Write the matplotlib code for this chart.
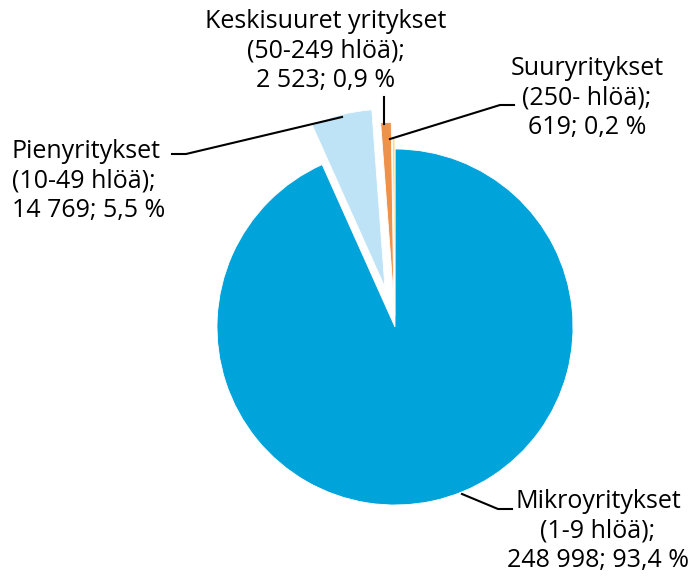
import matplotlib
matplotlib.use("Agg")
import matplotlib.pyplot as plt

labels = ["Mikroyritykset\n(1-9 hlöä);\n248 998; 93,4 %",
          "Pienyritykset\n(10-49 hlöä);\n14 769; 5,5 %",
          "Keskisuuret yritykset\n(50-249 hlöä);\n2 523; 0,9 %",
          "Suuryritykset\n(250- hlöä);\n619; 0,2 %"]
values = [248998, 14769, 2523, 619]
colors = ["#00A3DA", "#BEE3F6", "#F0914A", "#FFDD6E"]
explode_frac = [0, 0.23, 0.15, 0.06]

W, H = 694, 579
fig = plt.figure(figsize=(W / 100, H / 100), dpi=100)
ax = fig.add_axes([0, 0, 1, 1])

R = 178
cx, cy = 395, H - 327
ax.pie(values, colors=colors, explode=[e * R for e in explode_frac],
       startangle=90, counterclock=False,
       radius=R, center=(cx, cy),
       wedgeprops=dict(edgecolor="white", linewidth=0.6))
ax.set_aspect("equal")
ax.set_xlim(0, W)
ax.set_ylim(0, H)
ax.axis("off")

def y(p):
    return H - p

fs = 18
font = dict(fontsize=fs, family=["Open Sans", "DejaVu Sans"], color="black",
            linespacing=1.25)

# Text labels
ax.text(326, y(51), labels[2], ha="center", va="center", **font)
ax.text(587, y(98), labels[3], ha="center", va="center", **font)
ax.text(12, y(181), labels[1], ha="left", va="center", **font)
ax.text(598, y(531), labels[0], ha="center", va="center", **font)

# Leader lines
lk = dict(color="black", linewidth=1.5)
ax.plot([172, 186, 342], [y(154), y(154), y(117)], **lk)
ax.plot([384, 384], [y(97), y(124)], **lk)
ax.plot([390, 500, 514], [y(139), y(105), y(105)], **lk)
ax.plot([462, 498, 512], [y(494), y(509), y(509)], **lk)

fig.savefig("out.png", dpi=100, facecolor="white")
